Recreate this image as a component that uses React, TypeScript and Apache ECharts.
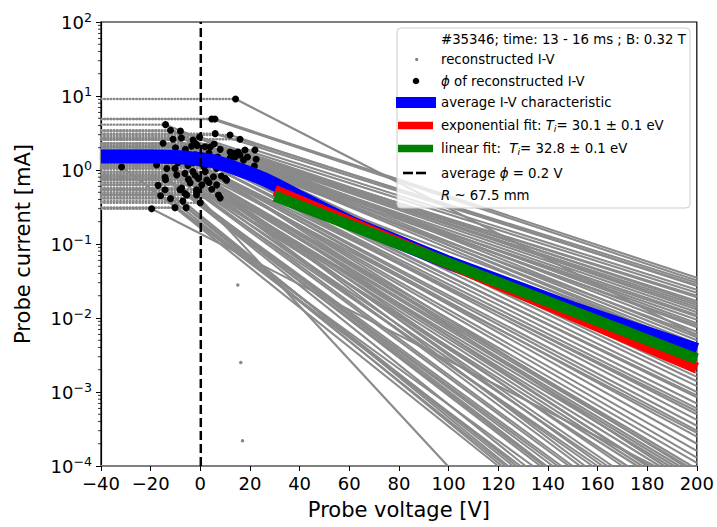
import React, { useEffect, useRef } from 'react';
import * as echarts from 'echarts';

// Knee points (phi, saturation current) of each reconstructed I-V, and where each curve ends
const kneeV = [5.9, 4.6, 16, 12, 22, 18, 22.5, 15.2, 19, 16, 13.4, 5.6, 12, 17.4, 21.8, 8, 14, -8, -14, 4, 12, -2.9, 1.9, -12, -2.1, -1.3, -7.6, -3.5, 1, -6, -10, 3, 6.5, 8.5, 10, -3, 10.6, 2, 5.3, -10.2, 6.6, 2.6, -2.1, -0.8, -10.2, -6.2, 4.6, 0.6, -13.5, -4.8, 7.3, -9.5, -17.6, -4.1, 8, -1.5, -1.5, -14.2, -14, -7.5, -8.2, -6.2, -5.5, -31.7, -17, -14.2, -12, -5.7, -10.2, 14.2, -19.6, -1.5,
  6, -0.3, 3.5, -11, 7, -15, 9.5, -2, 0.5, -8.5, -12.5, -4, 1.5, -5, -9, -3, 3.5, 0, -16, -7];
const kneeI = [4.9, 4.9, 2.6, 2.97, 1.86, 1.86, 1.4, 1.75, 1.5, 1.6, 1.68, 2.25, 1.75, 1.36, 1.13, 1.9, 1.5, 3.35, 4.1, 2.05, 1.45, 2.55, 2.06, 3.45, 2.3, 2.15, 2.7, 2.1, 1.55, 1.9, 2.0, 1.2, 1.05, 0.83, 0.77, 1.25, 0.73, 0.95, 0.81, 1.36, 0.63, 0.73, 0.85, 0.77, 1.05, 0.9, 0.55, 0.63, 1.05, 0.75, 0.46, 0.86, 1.17, 0.67, 0.42, 0.54, 0.5, 0.8, 0.74, 0.57, 0.54, 0.48, 0.46, 1.1, 0.62, 0.54, 0.41, 0.31, 0.31, 9.1, 0.3, 0.46,
  3.1, 2.8, 1.7, 2.6, 1.5, 2.3, 1.3, 1.6, 1.45, 1.6, 1.5, 1.4, 1.1, 1.15, 1.25, 0.95, 0.68, 0.36, 0.45, 0.38];
const endV = [200, 200, 200, 200, 200, 200, 200, 200, 200, 200, 200, 200, 200, 200, 200, 200, 200, 200, 200, 200, 200, 200, 200, 200, 200, 200, 200, 200, 200, 200, 200, 200, 200, 200, 200, 200, 200, 200, 200, 200, 198, 196, 193, 191, 189, 185, 181, 178, 176, 172, 166, 164, 160, 158, 153, 150, 148.5, 145.5, 144, 139.5, 138.5, 137, 131, 129, 127.5, 126, 123, 121.5, 120, 200, 183, 99.7,
  200, 200, 200, 200, 200, 200, 200, 200, 200, 200, 200, 195, 187, 180, 170, 162, 155, 142, 134, 124];
const endI = [0.035, 0.032, 0.03, 0.027, 0.024, 0.022, 0.02, 0.019, 0.017, 0.015, 0.014, 0.013, 0.012, 0.011, 0.0095, 0.0085, 0.0075, 0.0065, 0.0055, 0.005, 0.0045, 0.004, 0.0035, 0.0018, 0.0016, 0.0014, 0.0012, 0.001, 0.00085, 0.0007, 0.0006, 0.0005, 0.00042, 0.00035, 0.0003, 0.00025, 0.0002, 0.00016, 0.00013, 0.00011, 1e-4, 1e-4, 1e-4, 1e-4, 1e-4, 1e-4, 1e-4, 1e-4, 1e-4, 1e-4, 1e-4, 1e-4, 1e-4, 1e-4, 1e-4, 1e-4, 1e-4, 1e-4, 1e-4, 1e-4, 1e-4, 1e-4, 1e-4, 1e-4, 1e-4, 1e-4, 1e-4, 1e-4, 1e-4, 0.0058, 1e-4, 1e-4,
  0.028, 0.016, 0.0105, 0.008, 0.006, 0.0042, 0.0025, 0.0022, 0.0009, 0.00055, 0.00028, 1e-4, 1e-4, 1e-4, 1e-4, 1e-4, 1e-4, 1e-4, 1e-4, 1e-4];

// stray reconstructed points
const strayV = [15.1, 16.3, 17.0];
const strayI = [0.028, 0.0025, 0.00022];

// average I-V characteristic
const avgV = [-40, -20, -10, -5, 0, 5, 10, 15, 20, 25, 30, 40, 50, 62, 100, 150, 200];
const avgI = [1.52, 1.52, 1.5, 1.46, 1.4, 1.32, 1.18, 1.03, 0.9, 0.77, 0.64, 0.43, 0.29, 0.185, 0.056, 0.0135, 0.0037];

// fits
const expFitV = [30, 200];
const expFitI = [0.53, 0.0021];
const linFitV = [30, 200];
const linFitI = [0.445, 0.0028];

const avgPhi = 0.2;

const xTicks = { min: -40, max: 200, interval: 20 };
const yRange = { min: 1e-4, max: 100 };
const decades = [-4, -3, -2, -1, 0, 1];
const minorMult = [2, 3, 4, 5, 6, 7, 8, 9];

const FONT = '"DejaVu Sans", sans-serif';
const GRAY_DOT = '#888888';
const GRAY_LINE = '#8a8a8a';

export default function App() {
  const ref = useRef<HTMLDivElement>(null);
  useEffect(() => {
    if (!ref.current) return;
    const chart = echarts.init(ref.current, undefined, { renderer: 'svg' });
    const series: any[] = [];
    kneeV.forEach((v, i) => {
      series.push({
        type: 'line',
        data: [[xTicks.min, kneeI[i]], [v, kneeI[i]]],
        symbol: 'none',
        silent: true,
        lineStyle: { color: GRAY_DOT, width: 2.4, type: [0.6, 2.6], cap: 'round' },
        z: 1,
      });
      series.push({
        type: 'line',
        data: [[v, kneeI[i]], [endV[i], endI[i]]],
        symbol: 'none',
        silent: true,
        lineStyle: { color: GRAY_LINE, width: 2.1 },
        z: 1,
      });
    });
    series.push({
      type: 'scatter',
      data: strayV.map((v, i) => [v, strayI[i]]),
      symbolSize: 3.5,
      itemStyle: { color: '#888888', opacity: 1 },
      silent: true,
      z: 1,
    });
    series.push({
      type: 'scatter',
      data: kneeV.map((v, i) => [v, kneeI[i]]),
      symbolSize: 7,
      itemStyle: { color: '#000000', opacity: 1 },
      silent: true,
      z: 2,
    });
    series.push({
      type: 'line',
      data: avgV.map((v, i) => [v, avgI[i]]),
      symbol: 'none',
      silent: true,
      lineStyle: { color: '#0000ff', width: 14, join: 'round' },
      z: 3,
    });
    series.push({
      type: 'line',
      data: expFitV.map((v, i) => [v, expFitI[i]]),
      symbol: 'none',
      silent: true,
      lineStyle: { color: '#ff0000', width: 11 },
      z: 4,
    });
    series.push({
      type: 'line',
      data: linFitV.map((v, i) => [v, linFitI[i]]),
      symbol: 'none',
      silent: true,
      lineStyle: { color: '#008000', width: 11 },
      z: 5,
    });
    series.push({
      type: 'line',
      data: [[avgPhi, yRange.min], [avgPhi, yRange.max]],
      symbol: 'none',
      silent: true,
      lineStyle: { color: '#000000', width: 2.5, type: [9, 4] },
      z: 6,
    });
    const minorTicks: number[] = [];
    decades.forEach((e) => minorMult.forEach((m) => minorTicks.push(m * Math.pow(10, e))));
    series.push({
      type: 'custom',
      data: minorTicks.map((t) => [xTicks.min, t]),
      clip: false,
      silent: true,
      z: 10,
      renderItem: (params: any, api: any) => {
        const p = api.coord([api.value(0), api.value(1)]);
        return {
          type: 'line',
          shape: { x1: p[0] - 3, y1: p[1], x2: p[0], y2: p[1] },
          style: { stroke: '#000', lineWidth: 0.8 },
        };
      },
    });

    const rows = [39.5, 59.5, 81, 102.5, 125.5, 148.5, 173, 195.5];
    const tx = 441;
    const baseText = { fontSize: 13.3, fontFamily: FONT, fill: '#000' };
    const richDef = {
      n: { fontSize: 13.3, fontFamily: FONT, lineHeight: 16 },
      i: { fontSize: 13.3, fontFamily: FONT, fontStyle: 'italic', lineHeight: 16 },
      s: { fontSize: 9.5, fontFamily: FONT, fontStyle: 'italic', lineHeight: 10, verticalAlign: 'bottom' },
    };
    const txt = (text: string, y: number) => ({
      type: 'text',
      z: 101,
      style: { ...baseText, text, x: tx, y, verticalAlign: 'middle', rich: richDef },
    });

    chart.setOption({
      animation: false,
      backgroundColor: '#ffffff',
      grid: { left: 101, right: 20, top: 22, bottom: 61, show: true, borderColor: '#000', borderWidth: 1.2, containLabel: false },
      xAxis: {
        type: 'value',
        min: xTicks.min,
        max: xTicks.max,
        interval: xTicks.interval,
        name: 'Probe voltage [V]',
        nameLocation: 'middle',
        nameGap: 33,
        nameTextStyle: { fontSize: 21, fontFamily: FONT, color: '#000' },
        axisLine: { show: true, onZero: false, lineStyle: { color: '#808080', width: 2 } },
        axisTick: { show: true, inside: false, length: 5, lineStyle: { color: '#000', width: 1 } },
        axisLabel: {
          margin: 8,
          fontSize: 18,
          fontFamily: FONT,
          color: '#000',
          formatter: (v: number) => (v < 0 ? '\u2212' + -v : String(v)),
        },
        splitLine: { show: false },
      },
      yAxis: {
        type: 'log',
        logBase: 10,
        min: yRange.min,
        max: yRange.max,
        splitNumber: 6,
        name: 'Probe current [mA]',
        nameLocation: 'middle',
        nameGap: 68,
        nameTextStyle: { fontSize: 21, fontFamily: FONT, color: '#000' },
        axisLine: { show: true, onZero: false, lineStyle: { color: '#000', width: 1.2 } },
        axisTick: { show: true, inside: false, length: 5, lineStyle: { color: '#000', width: 1 } },
        axisLabel: {
          margin: 9,
          formatter: (v: number) => {
            const e = Math.round(Math.log10(v));
            return '{b|10}{s|' + (e < 0 ? '\u2212' + -e : String(e)) + '}';
          },
          rich: {
            b: { fontSize: 18, fontFamily: FONT, color: '#000', lineHeight: 22 },
            s: { fontSize: 12.6, fontFamily: FONT, color: '#000', lineHeight: 10, verticalAlign: 'top' },
          },
        },
        splitLine: { show: false },
      },
      series,
      graphic: [
        {
          type: 'rect',
          z: 100,
          shape: { x: 397, y: 28, width: 293, height: 180, r: 4 },
          style: { fill: 'rgba(255,255,255,0.8)', stroke: '#cccccc', lineWidth: 1 },
        },
        txt('#35346; time: 13 - 16 ms ; B: 0.32 T', rows[0]),
        { type: 'circle', z: 101, shape: { cx: 416.7, cy: rows[1], r: 1.6 }, style: { fill: '#808080' } },
        txt('reconstructed I-V', rows[1]),
        { type: 'circle', z: 101, shape: { cx: 416, cy: rows[2], r: 3.3 }, style: { fill: '#000' } },
        txt('{i|\u03d5} of reconstructed I-V', rows[2]),
        { type: 'rect', z: 101, shape: { x: 396, y: rows[3] - 5.5, width: 40, height: 11 }, style: { fill: '#0000ff' } },
        txt('average I-V characteristic', rows[3]),
        { type: 'rect', z: 101, shape: { x: 398, y: rows[4] - 3.8, width: 35, height: 7.6 }, style: { fill: '#ff0000' } },
        txt('exponential fit: {i|T}{s|i}= 30.1 \u00b1 0.1 eV', rows[4]),
        { type: 'rect', z: 101, shape: { x: 398, y: rows[5] - 3.8, width: 35, height: 7.6 }, style: { fill: '#008000' } },
        txt('linear fit:  {i|T}{s|i}= 32.8 \u00b1 0.1 eV', rows[5]),
        { type: 'rect', z: 101, shape: { x: 403, y: rows[6] - 1.3, width: 10, height: 2.6 }, style: { fill: '#000' } },
        { type: 'rect', z: 101, shape: { x: 416, y: rows[6] - 1.3, width: 10, height: 2.6 }, style: { fill: '#000' } },
        txt('average {i|\u03d5} = 0.2 V', rows[6]),
        txt('{i|R} ~ 67.5 mm', rows[7]),
      ],
    });
    return () => chart.dispose();
  }, []);
  return (
    <div
      ref={ref}
      style={{ position: 'fixed', left: 0, top: 0, width: 717, height: 527, background: '#fff' }}
    />
  );
}
